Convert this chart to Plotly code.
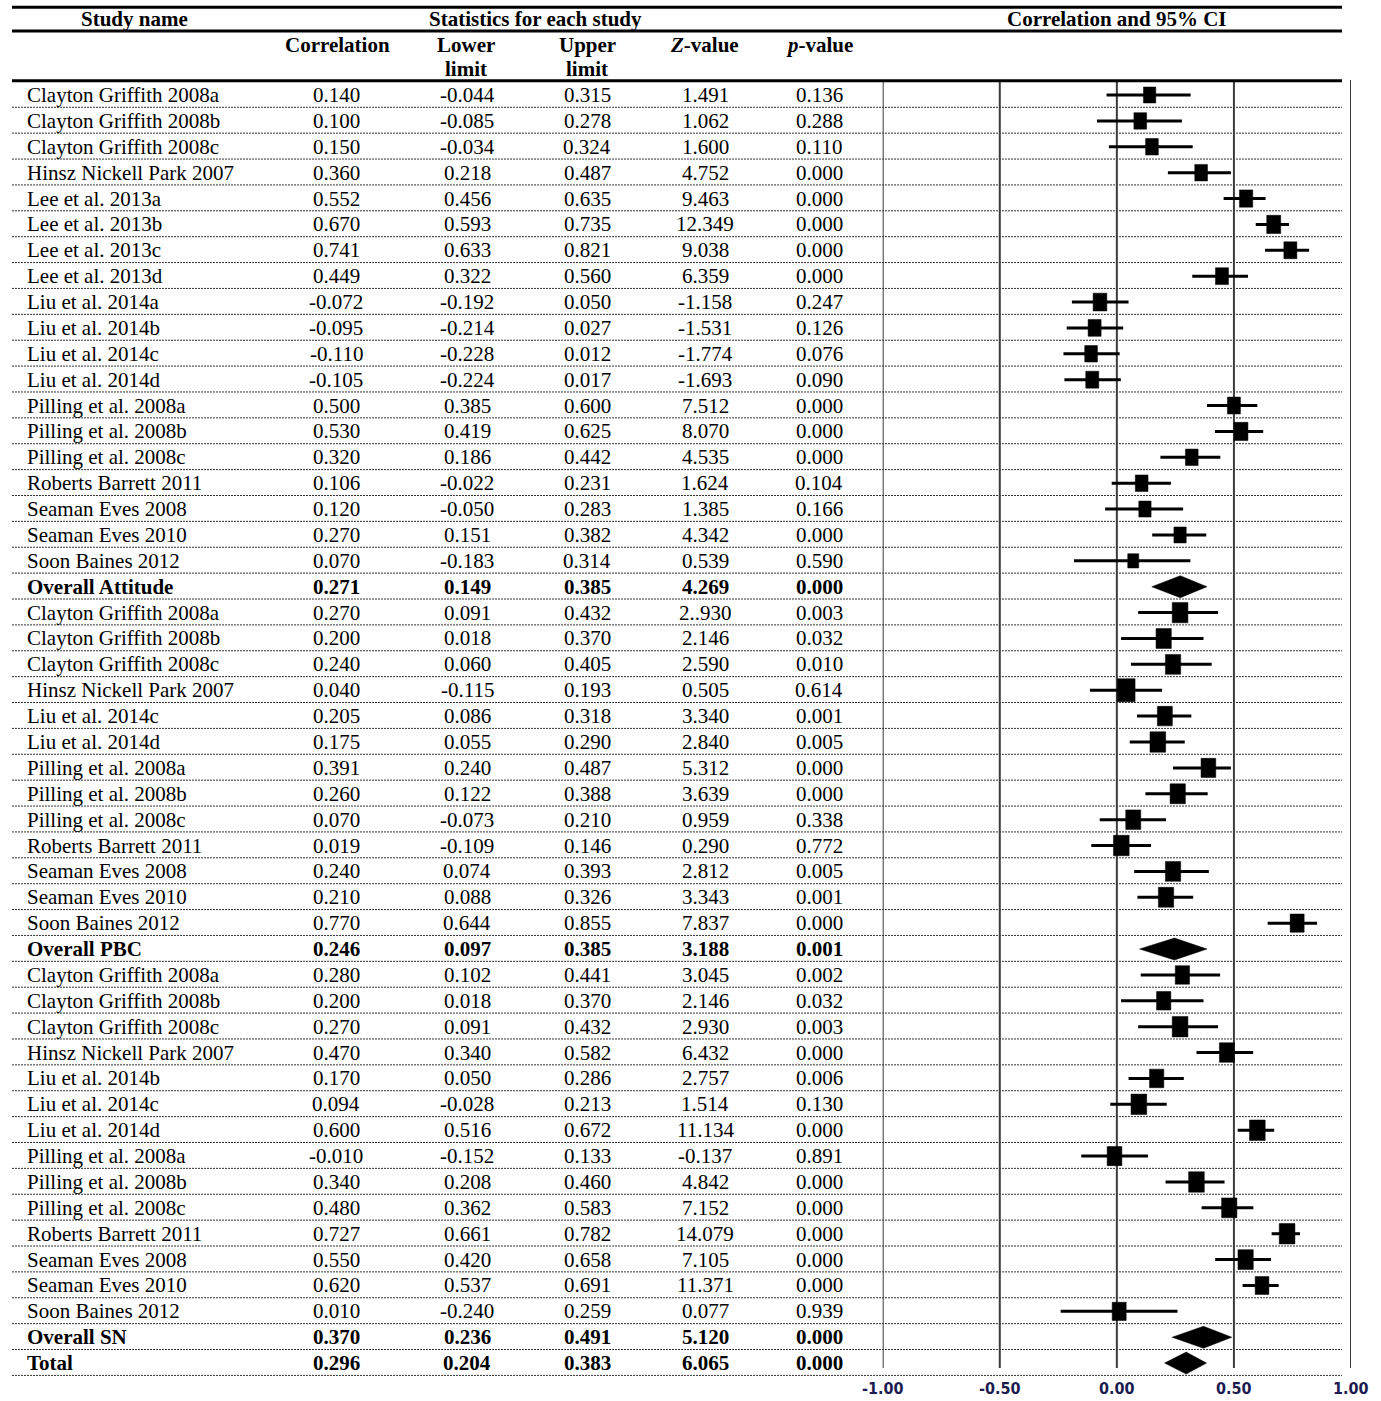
import plotly.graph_objects as go

# ---------------------------------------------------------------------------
# Meta-analysis data: study label, correlation, 95% CI, Z and p
# ---------------------------------------------------------------------------
study_names = [
    "Clayton Griffith 2008a", "Clayton Griffith 2008b", "Clayton Griffith 2008c",
    "Hinsz Nickell Park 2007", "Lee et al. 2013a", "Lee et al. 2013b",
    "Lee et al. 2013c", "Lee et al. 2013d", "Liu et al. 2014a", "Liu et al. 2014b",
    "Liu et al. 2014c", "Liu et al. 2014d", "Pilling et al. 2008a",
    "Pilling et al. 2008b", "Pilling et al. 2008c", "Roberts Barrett 2011",
    "Seaman Eves 2008", "Seaman Eves 2010", "Soon Baines 2012",
    "Overall Attitude",
    "Clayton Griffith 2008a", "Clayton Griffith 2008b", "Clayton Griffith 2008c",
    "Hinsz Nickell Park 2007", "Liu et al. 2014c", "Liu et al. 2014d",
    "Pilling et al. 2008a", "Pilling et al. 2008b", "Pilling et al. 2008c",
    "Roberts Barrett 2011", "Seaman Eves 2008", "Seaman Eves 2010",
    "Soon Baines 2012",
    "Overall PBC",
    "Clayton Griffith 2008a", "Clayton Griffith 2008b", "Clayton Griffith 2008c",
    "Hinsz Nickell Park 2007", "Liu et al. 2014b", "Liu et al. 2014c",
    "Liu et al. 2014d", "Pilling et al. 2008a", "Pilling et al. 2008b",
    "Pilling et al. 2008c", "Roberts Barrett 2011", "Seaman Eves 2008",
    "Seaman Eves 2010", "Soon Baines 2012",
    "Overall SN",
    "Total",
]

correlation = [
    0.140, 0.100, 0.150, 0.360, 0.552, 0.670, 0.741, 0.449, -0.072, -0.095,
    -0.110, -0.105, 0.500, 0.530, 0.320, 0.106, 0.120, 0.270, 0.070,
    0.271,
    0.270, 0.200, 0.240, 0.040, 0.205, 0.175, 0.391, 0.260, 0.070, 0.019,
    0.240, 0.210, 0.770,
    0.246,
    0.280, 0.200, 0.270, 0.470, 0.170, 0.094, 0.600, -0.010, 0.340, 0.480,
    0.727, 0.550, 0.620, 0.010,
    0.370,
    0.296,
]

lower_limit = [
    -0.044, -0.085, -0.034, 0.218, 0.456, 0.593, 0.633, 0.322, -0.192, -0.214,
    -0.228, -0.224, 0.385, 0.419, 0.186, -0.022, -0.050, 0.151, -0.183,
    0.149,
    0.091, 0.018, 0.060, -0.115, 0.086, 0.055, 0.240, 0.122, -0.073, -0.109,
    0.074, 0.088, 0.644,
    0.097,
    0.102, 0.018, 0.091, 0.340, 0.050, -0.028, 0.516, -0.152, 0.208, 0.362,
    0.661, 0.420, 0.537, -0.240,
    0.236,
    0.204,
]

upper_limit = [
    0.315, 0.278, 0.324, 0.487, 0.635, 0.735, 0.821, 0.560, 0.050, 0.027,
    0.012, 0.017, 0.600, 0.625, 0.442, 0.231, 0.283, 0.382, 0.314,
    0.385,
    0.432, 0.370, 0.405, 0.193, 0.318, 0.290, 0.487, 0.388, 0.210, 0.146,
    0.393, 0.326, 0.855,
    0.385,
    0.441, 0.370, 0.432, 0.582, 0.286, 0.213, 0.672, 0.133, 0.460, 0.583,
    0.782, 0.658, 0.691, 0.259,
    0.491,
    0.383,
]

z_value = [
    "1.491", "1.062", "1.600", "4.752", "9.463", "12.349", "9.038", "6.359",
    "-1.158", "-1.531", "-1.774", "-1.693", "7.512", "8.070", "4.535", "1.624",
    "1.385", "4.342", "0.539",
    "4.269",
    "2..930", "2.146", "2.590", "0.505", "3.340", "2.840", "5.312", "3.639",
    "0.959", "0.290", "2.812", "3.343", "7.837",
    "3.188",
    "3.045", "2.146", "2.930", "6.432", "2.757", "1.514", "11.134", "-0.137",
    "4.842", "7.152", "14.079", "7.105", "11.371", "0.077",
    "5.120",
    "6.065",
]

p_value = [
    0.136, 0.288, 0.110, 0.000, 0.000, 0.000, 0.000, 0.000, 0.247, 0.126,
    0.076, 0.090, 0.000, 0.000, 0.000, 0.104, 0.166, 0.000, 0.590,
    0.000,
    0.003, 0.032, 0.010, 0.614, 0.001, 0.005, 0.000, 0.000, 0.338, 0.772,
    0.005, 0.001, 0.000,
    0.001,
    0.002, 0.032, 0.003, 0.000, 0.006, 0.130, 0.000, 0.891, 0.000, 0.000,
    0.000, 0.000, 0.000, 0.939,
    0.000,
    0.000,
]

summary_rows = ["Overall Attitude", "Overall PBC", "Overall SN", "Total"]

axis_ticks = [-1.0, -0.5, 0.0, 0.5, 1.0]
axis_tick_text = ["-1.00", "-0.50", "0.00", "0.50", "1.00"]

# ---------------------------------------------------------------------------
# Layout constants (pixels of the 1381 x 1401 page)
# ---------------------------------------------------------------------------
W, H = 1381, 1401
ROW0_PX = 95.0          # centre of first data row
ROW_PX = 25.88          # row pitch
X_LEFT_PX, X_RIGHT_PX = 882.7, 1351.0   # plot x = -1 and x = +1
PX_PER_UNIT = (X_RIGHT_PX - X_LEFT_PX) / 2.0
RULE_X0, RULE_X1 = 12, 1342

# study box widths (px) drawn in the forest column
box_w_px = [
    12.3, 12.7, 12.7, 12.7, 13.3, 14.0, 13.0, 13.0, 13.7, 13.0, 12.7, 13.0,
    13.0, 14.0, 12.7, 12.7, 12.3, 12.3, 11.0,
    15.7, 15.3, 15.3, 17.7, 15.0, 15.7, 14.7, 15.3, 15.0, 15.7, 15.3, 15.3, 14.0,
    14.3, 14.3, 15.7, 15.0, 14.3, 15.7, 15.7, 14.7, 15.7, 15.3, 15.7, 15.3,
    13.7, 14.0,
]
BOX_ASPECT = 1.3
DIAMOND_HALF_PX = 11.0

FONT = "Liberation Serif, Times New Roman, serif"
FS = 21


def row_of_px(py):
    return (py - ROW0_PX) / ROW_PX


def xpaper(px):
    return px / W


n_rows = len(study_names)

fig = go.Figure()

# ---------------------------------------------------------------------------
# Forest column: CI lines, boxes, diamonds
# ---------------------------------------------------------------------------
ci_x, ci_y = [], []
box_x, box_y = [], []
dia_x, dia_y = [], []
k = 0
for i in range(n_rows):
    r, lo, hi = correlation[i], lower_limit[i], upper_limit[i]
    if study_names[i] in summary_rows:
        dh = DIAMOND_HALF_PX / ROW_PX
        dia_x += [lo, r, hi, r, lo, None]
        dia_y += [i, i - dh, i, i + dh, i, None]
    else:
        ci_x += [lo, hi, None]
        ci_y += [i, i, None]
        hw = box_w_px[k] / 2.0 / PX_PER_UNIT
        hh = box_w_px[k] * BOX_ASPECT / 2.0 / ROW_PX
        box_x += [r - hw, r + hw, r + hw, r - hw, r - hw, None]
        box_y += [i - hh, i - hh, i + hh, i + hh, i - hh, None]
        k += 1

fig.add_trace(go.Scatter(x=ci_x, y=ci_y, mode="lines",
                         line=dict(color="black", width=3),
                         hoverinfo="skip", showlegend=False))
fig.add_trace(go.Scatter(x=box_x, y=box_y, mode="lines", fill="toself",
                         fillcolor="black", line=dict(color="black", width=0.5),
                         hoverinfo="skip", showlegend=False))
fig.add_trace(go.Scatter(x=dia_x, y=dia_y, mode="lines", fill="toself",
                         fillcolor="black", line=dict(color="black", width=0.5),
                         hoverinfo="skip", showlegend=False))

shapes = []

# vertical reference lines of the forest column
for t in axis_ticks:
    shapes.append(dict(type="line", xref="x", yref="y", x0=t, x1=t,
                       y0=row_of_px(80), y1=row_of_px(1368),
                       line=dict(color="#3c3c3c", width=2), layer="below"))

# dotted separators below each row
for i in range(n_rows):
    yy = i + 0.475
    shapes.append(dict(type="line", xref="paper", yref="y",
                       x0=xpaper(RULE_X0), x1=xpaper(RULE_X1), y0=yy, y1=yy,
                       line=dict(color="#333333", width=1, dash="2px,1px"),
                       layer="below"))

# heavy header rules
for py in (7.3, 31.0, 80.8):
    shapes.append(dict(type="line", xref="paper", yref="y",
                       x0=xpaper(RULE_X0), x1=xpaper(RULE_X1),
                       y0=row_of_px(py), y1=row_of_px(py),
                       line=dict(color="black", width=3)))

# ---------------------------------------------------------------------------
# Table text
# ---------------------------------------------------------------------------
ann = []


def text(x_px, y_row, s, anchor="center", bold=False, size=FS):
    ann.append(dict(x=xpaper(x_px), y=y_row, xref="paper", yref="y",
                    text=f"<b>{s}</b>" if bold else s, showarrow=False,
                    xanchor=anchor, yanchor="middle",
                    font=dict(family=FONT, size=size, color="black")))


COL_NAME = 25
COL_R, COL_LO, COL_HI, COL_Z, COL_P = 336, 467, 587, 705, 819

# headers
text(134, row_of_px(19), "Study name", bold=True)
text(535, row_of_px(19), "Statistics for each study", bold=True)
text(1117, row_of_px(19), "Correlation and 95% CI", bold=True)
text(337, row_of_px(45), "Correlation", bold=True)
text(466, row_of_px(45), "Lower", bold=True)
text(466, row_of_px(69), "limit", bold=True)
text(587, row_of_px(45), "Upper", bold=True)
text(587, row_of_px(69), "limit", bold=True)
text(704, row_of_px(45), "<i>Z</i>-value", bold=True)
text(819, row_of_px(45), "<i>p</i>-value", bold=True)

for i in range(n_rows):
    b = study_names[i] in summary_rows
    text(COL_NAME, i, study_names[i], anchor="left", bold=b)
    text(COL_R, i, f"{correlation[i]:.3f}", bold=b)
    text(COL_LO, i, f"{lower_limit[i]:.3f}", bold=b)
    text(COL_HI, i, f"{upper_limit[i]:.3f}", bold=b)
    text(COL_Z, i, z_value[i], bold=b)
    text(COL_P, i, f"{p_value[i]:.3f}", bold=b)

# axis labels under the forest column
for t, s in zip(axis_ticks, axis_tick_text):
    ann.append(dict(x=t, y=row_of_px(1388), xref="x", yref="y",
                    text=f"<b>{s}</b>",
                    showarrow=False, xanchor="center", yanchor="middle",
                    font=dict(family="DejaVu Sans Condensed, DejaVu Sans",
                              size=16, color="#1c1c50")))

fig.update_layout(
    width=W, height=H,
    margin=dict(l=0, r=0, t=0, b=0),
    paper_bgcolor="white", plot_bgcolor="white",
    showlegend=False,
    xaxis=dict(domain=[X_LEFT_PX / W, X_RIGHT_PX / W], range=[-1, 1],
               visible=False, fixedrange=True),
    yaxis=dict(domain=[0, 1],
               range=[row_of_px(H), row_of_px(0)],
               visible=False, fixedrange=True),
    shapes=shapes,
    annotations=ann,
)

fig.write_html("out.html")
